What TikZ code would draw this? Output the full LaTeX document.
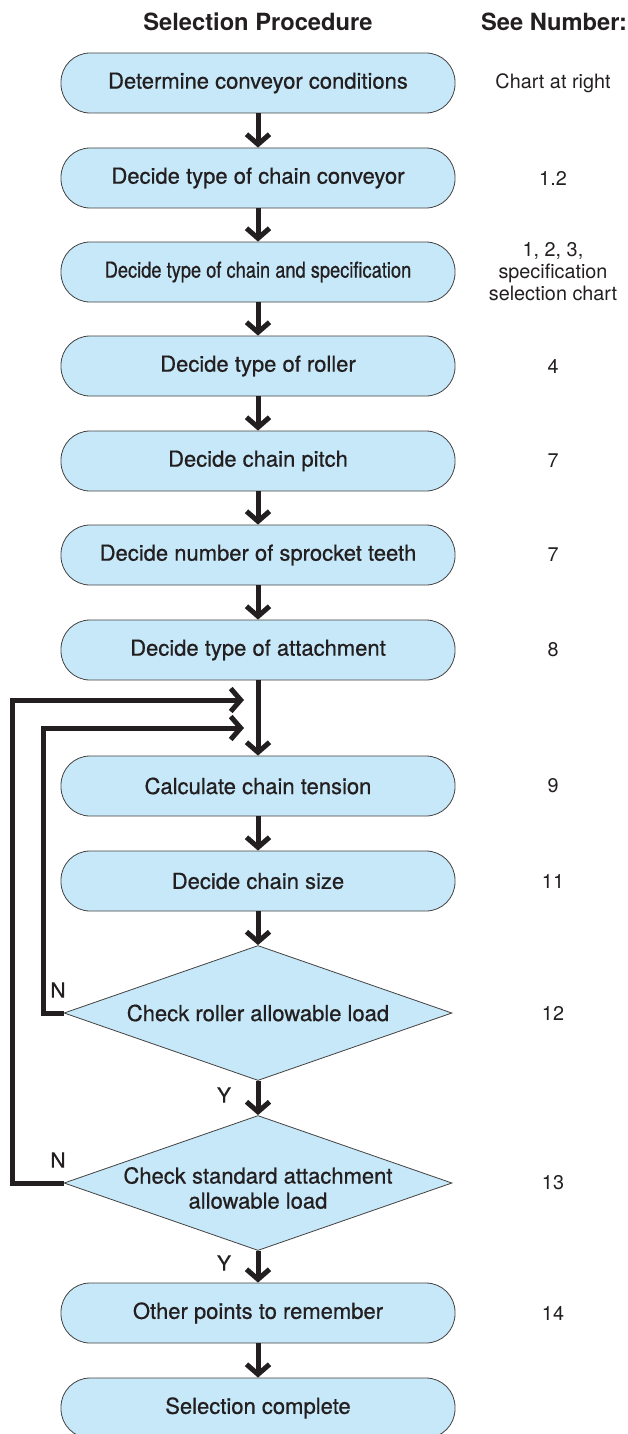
\documentclass[tikz,border=0pt]{standalone}
\usepackage{fontspec}
\setmainfont{TeX Gyre Heros}
\newfontfamily\medfont{TeX Gyre Heros}[FakeBold=0.7]
\usetikzlibrary{positioning,shapes.geometric,arrows.meta}
\definecolor{boxblue}{HTML}{C6E8F8}
\definecolor{inkgray}{HTML}{231F20}

\tikzset{
  stepbox/.style={draw=inkgray!85, line width=0.8pt, fill=boxblue, rounded corners=29pt,
    minimum width=394pt, minimum height=60pt, inner sep=0pt,
    font=\medfont\fontsize{22}{26}\selectfont, text=inkgray},
  decision/.style={draw=inkgray!85, line width=0.8pt, fill=boxblue, diamond,
    minimum width=388pt, minimum height=135pt, inner sep=0pt},
  decisiontext/.style={font=\medfont\fontsize{22}{25}\selectfont, text=inkgray, align=center},
  seenum/.style={font=\fontsize{19.8}{22}\selectfont, text=inkgray, align=center},
  header/.style={font=\bfseries\fontsize{23.7}{28}\selectfont, text=inkgray},
  yn/.style={font=\medfont\fontsize{21}{24}\selectfont, text=inkgray},
  flow/.style={line width=5pt, draw=inkgray, line join=miter,
    -{Straight Barb[length=10pt,width=23pt]}},
}

\begin{document}
\begin{tikzpicture}[x=1pt,y=-1pt]
  \useasboundingbox (0,0) rectangle (628,1434);

  % column headers
  \node[header] (hdrproc) at (258,22) {Selection Procedure};
  \node[header] (hdrnum) at (554,22) {See Number:};

  % procedure steps
  \node[stepbox] (s1) at (258,83) {Determine conveyor conditions};
  \node[stepbox] (s2) at (258,178) {Decide type of chain conveyor};
  \node[stepbox] (s3) at (258,272) {\scalebox{0.83}[1]{Decide type of chain and specification}};
  \node[stepbox] (s4) at (258,366) {Decide type of roller};
  \node[stepbox] (s5) at (258,461) {Decide chain pitch};
  \node[stepbox] (s6) at (258,555) {Decide number of sprocket teeth};
  \node[stepbox] (s7) at (258,650) {Decide type of attachment};
  \node[stepbox] (s8) at (258,786) {Calculate chain tension};
  \node[stepbox] (s9) at (258,881) {Decide chain size};
  \node[decision] (chk1) at (258,1013) {};
  \node[decisiontext] (chk1txt) at (chk1) {Check roller allowable load};
  \node[decision] (chk2) at (258,1183) {};
  \node[decisiontext] (chk2txt) at (258,1188) {Check standard attachment\\allowable load};
  \node[stepbox] (s10) at (258,1313) {Other points to remember};
  \node[stepbox] (s11) at (258,1408) {Selection complete};

  % reference numbers
  \node[seenum] (n1) at (553,83) {Chart at right};
  \node[seenum] (n2) at (553,178) {1.2};
  \node[seenum] (n3) at (553,272) {1, 2, 3,\\specification\\selection chart};
  \node[seenum] (n4) at (553,366) {4};
  \node[seenum] (n5) at (553,461) {7};
  \node[seenum] (n6) at (553,555) {7};
  \node[seenum] (n7) at (553,650) {8};
  \node[seenum] (n8) at (553,786) {9};
  \node[seenum] (n9) at (553,881) {11};
  \node[seenum] (n10) at (553,1013) {12};
  \node[seenum] (n11) at (553,1183) {13};
  \node[seenum] (n12) at (553,1313) {14};

  % main flow
  \draw[flow] (s1) -- (s2);
  \draw[flow] (s2) -- (s3);
  \draw[flow] (s3) -- (s4);
  \draw[flow] (s4) -- (s5);
  \draw[flow] (s5) -- (s6);
  \draw[flow] (s6) -- (s7);
  \draw[flow] (s7) -- (s8);
  \draw[flow] (s8) -- (s9);
  \draw[flow] (s9) -- (chk1);
  \draw[flow] (chk1) -- (chk2);
  \draw[flow] (chk2) -- (s10);
  \draw[flow] (s10) -- (s11);

  % return loops
  \coordinate (jn1) at (258,700);
  \coordinate (jn2) at (258,728);
  \draw[flow, shorten >=14pt] (chk2.west) -- (12,1183) |- (jn1);
  \draw[flow, shorten >=14pt] (chk1.west) -- (43,1013) |- (jn2);

  % branch labels
  \node[yn] (no1) at (58,990) {N};
  \node[yn] (no2) at (58,1160) {N};
  \node[yn] (yes1) at (224,1095) {Y};
  \node[yn] (yes2) at (224,1263) {Y};
\end{tikzpicture}
\end{document}
